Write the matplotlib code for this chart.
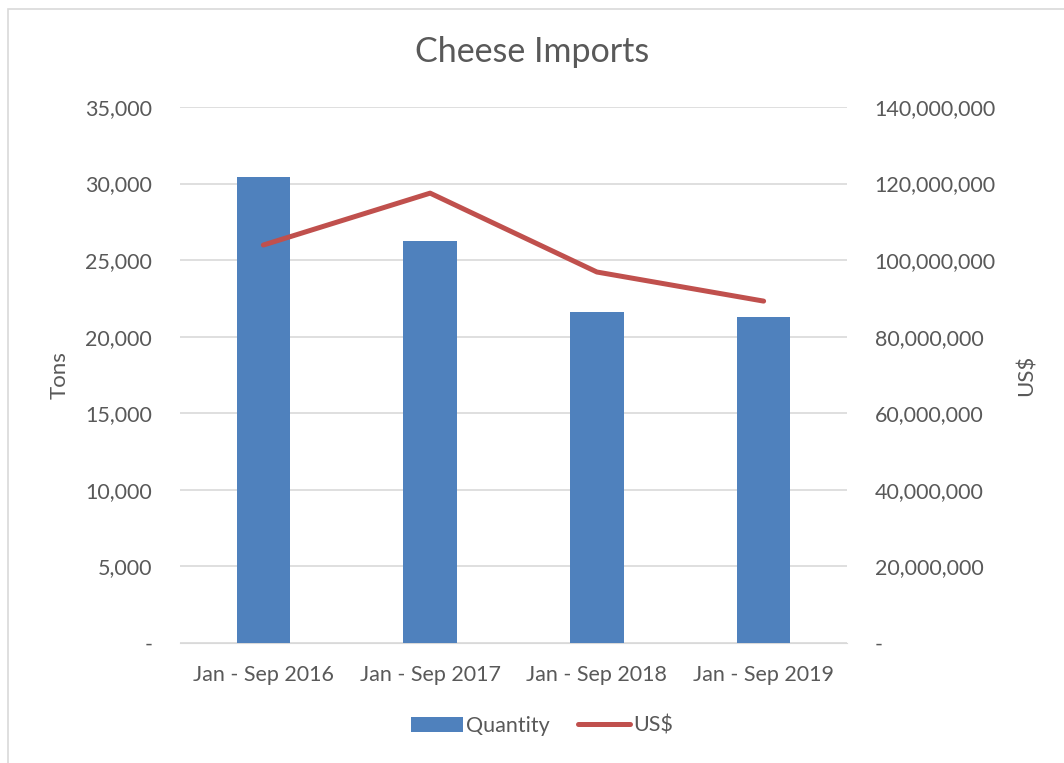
import matplotlib.pyplot as plt
from matplotlib.patches import Rectangle
from matplotlib.ticker import FuncFormatter
import numpy as np

plt.rcParams['font.family'] = ['Lato', 'DejaVu Sans']

periods = ['Jan - Sep 2016', 'Jan - Sep 2017', 'Jan - Sep 2018', 'Jan - Sep 2019']
quantity_tons = [30450, 26280, 21630, 21290]
value_usd = [103950000, 117500000, 96900000, 89300000]

text_col = '#595959'
grid_col = '#d9d9d9'


def fmt(v, pos):
    if v == 0:
        return '-'
    return f'{v:,.0f}'


fig = plt.figure(figsize=(10.64, 7.63), dpi=100)
fig.patches.append(Rectangle((8 / 1064, -0.1), 1.1, 1.1 - 9 / 763,
                             transform=fig.transFigure, fill=False,
                             edgecolor='#d9d9d9', linewidth=1.2))

ax = fig.add_axes([180 / 1064, 1 - 643 / 763, 667 / 1064, 536 / 763])
ax2 = ax.twinx()

x = np.arange(len(periods))
bars = ax.bar(x, quantity_tons, width=0.32, color='#4f81bd', label='Quantity', zorder=3)
line, = ax2.plot(x, value_usd, color='#c0504d', linewidth=3.6, label='US$',
                 solid_capstyle='round', zorder=4)

ax.set_xlim(-0.5, 3.5)
ax.set_ylim(0, 35000)
ax.set_yticks(np.arange(0, 35001, 5000))
ax2.set_ylim(0, 140000000)
ax2.set_yticks(np.arange(0, 140000001, 20000000))
ax.yaxis.set_major_formatter(FuncFormatter(fmt))
ax2.yaxis.set_major_formatter(FuncFormatter(fmt))

ax.set_xticks(x)
ax.set_xticklabels(periods)
ax.grid(axis='y', color=grid_col, linewidth=1.2, zorder=0)
ax.set_axisbelow(True)

for a in (ax, ax2):
    for s in a.spines.values():
        s.set_visible(False)
    a.tick_params(length=0, colors=text_col, labelsize=15.5)
ax.spines['bottom'].set_visible(True)
ax.spines['bottom'].set_color(grid_col)
ax.tick_params(axis='y', pad=20)
ax2.tick_params(axis='y', pad=20)
ax.tick_params(axis='x', pad=16)

ax.set_ylabel('Tons', color=text_col, fontsize=16, labelpad=11)
ax2.set_ylabel('US$', color=text_col, fontsize=16, labelpad=15)

fig.text(0.5, 1 - 52 / 763, 'Cheese Imports', ha='center', va='center',
         color=text_col, fontsize=24.5)

fig.legend([bars, line], ['Quantity', 'US$'], loc='center',
           bbox_to_anchor=(0.5 + 10 / 1064, 1 - 726 / 763), ncol=2, frameon=False,
           fontsize=15.5, labelcolor=text_col, handlelength=2.4,
           handletextpad=0.15, columnspacing=1.3)

fig.savefig('out.png', dpi=100)
